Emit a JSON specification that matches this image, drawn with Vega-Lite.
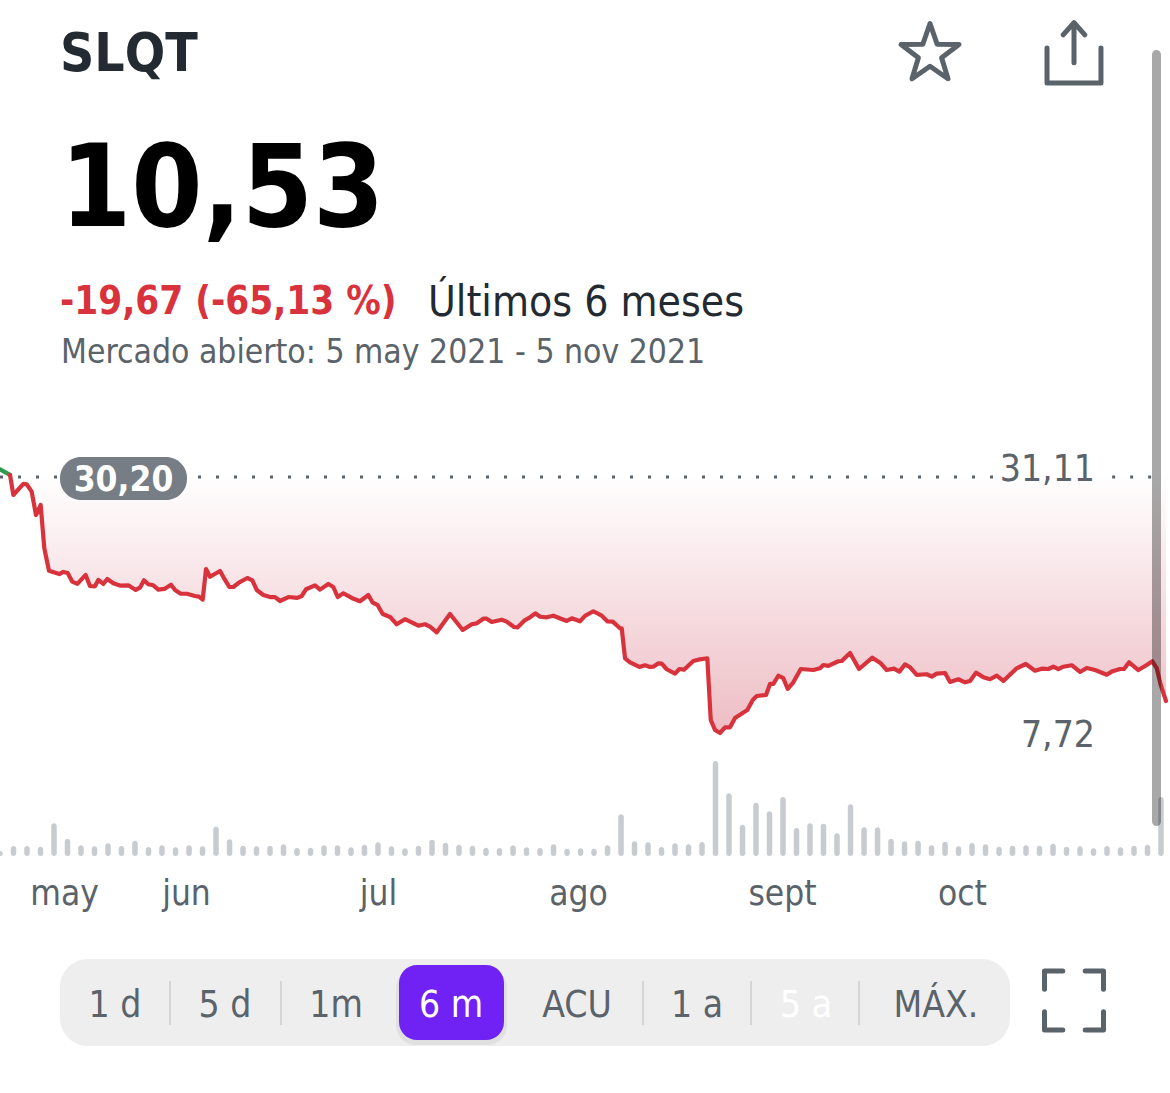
{"$schema":"https://vega.github.io/schema/vega-lite/v6.json","autosize":{"type":"none"},"width":1170,"height":1093,"padding":0,"background":"#ffffff","config":{"view":{"stroke":null},"font":"DejaVu Sans Condensed"},
"datasets":{
"precio":[{"dia":0,"precio":30.88,"tramo":"sube"},{"dia":1.58,"precio":30.38,"tramo":"sube"},
{"dia":1.58,"precio":30.38,"tramo":"baja"},{"dia":2.10,"precio":28.62,"tramo":"baja"},{"dia":3.68,"precio":29.59,"tramo":"baja"},{"dia":4.21,"precio":29.56,"tramo":"baja"},{"dia":5.00,"precio":28.91,"tramo":"baja"},{"dia":5.68,"precio":26.86,"tramo":"baja"},{"dia":6.42,"precio":27.74,"tramo":"baja"},{"dia":6.99,"precio":23.94,"tramo":"baja"},{"dia":7.73,"precio":21.97,"tramo":"baja"},{"dia":9.36,"precio":21.68,"tramo":"baja"},{"dia":9.99,"precio":21.86,"tramo":"baja"},{"dia":10.68,"precio":21.77,"tramo":"baja"},{"dia":11.41,"precio":21.01,"tramo":"baja"},{"dia":12.20,"precio":20.81,"tramo":"baja"},{"dia":13.52,"precio":21.60,"tramo":"baja"},{"dia":14.20,"precio":20.63,"tramo":"baja"},{"dia":14.99,"precio":20.60,"tramo":"baja"},{"dia":15.51,"precio":21.16,"tramo":"baja"},{"dia":16.30,"precio":20.81,"tramo":"baja"},{"dia":16.93,"precio":21.24,"tramo":"baja"},{"dia":17.88,"precio":20.87,"tramo":"baja"},{"dia":19.05,"precio":20.66,"tramo":"baja"},{"dia":20.25,"precio":20.69,"tramo":"baja"},{"dia":21.41,"precio":20.28,"tramo":"baja"},{"dia":22.09,"precio":20.48,"tramo":"baja"},{"dia":22.72,"precio":21.13,"tramo":"baja"},{"dia":23.40,"precio":20.78,"tramo":"baja"},{"dia":24.19,"precio":20.69,"tramo":"baja"},{"dia":24.98,"precio":20.31,"tramo":"baja"},{"dia":25.93,"precio":20.37,"tramo":"baja"},{"dia":26.99,"precio":20.74,"tramo":"baja"},{"dia":27.62,"precio":20.28,"tramo":"baja"},{"dia":28.52,"precio":19.95,"tramo":"baja"},{"dia":29.46,"precio":19.95,"tramo":"baja"},{"dia":30.77,"precio":19.75,"tramo":"baja"},{"dia":31.40,"precio":19.69,"tramo":"baja"},{"dia":31.99,"precio":19.43,"tramo":"baja"},{"dia":32.51,"precio":22.12,"tramo":"baja"},{"dia":33.14,"precio":21.44,"tramo":"baja"},{"dia":34.72,"precio":21.95,"tramo":"baja"},{"dia":35.51,"precio":21.16,"tramo":"baja"},{"dia":36.19,"precio":20.54,"tramo":"baja"},{"dia":36.82,"precio":20.54,"tramo":"baja"},{"dia":37.76,"precio":20.95,"tramo":"baja"},{"dia":39.03,"precio":21.33,"tramo":"baja"},{"dia":39.82,"precio":21.13,"tramo":"baja"},{"dia":40.51,"precio":20.28,"tramo":"baja"},{"dia":41.55,"precio":19.84,"tramo":"baja"},{"dia":42.61,"precio":19.66,"tramo":"baja"},{"dia":43.40,"precio":19.66,"tramo":"baja"},{"dia":44.19,"precio":19.31,"tramo":"baja"},{"dia":45.50,"precio":19.66,"tramo":"baja"},{"dia":46.92,"precio":19.58,"tramo":"baja"},{"dia":47.61,"precio":19.75,"tramo":"baja"},{"dia":48.29,"precio":20.34,"tramo":"baja"},{"dia":49.71,"precio":20.69,"tramo":"baja"},{"dia":50.50,"precio":20.31,"tramo":"baja"},{"dia":51.81,"precio":20.81,"tramo":"baja"},{"dia":52.60,"precio":20.54,"tramo":"baja"},{"dia":53.29,"precio":19.66,"tramo":"baja"},{"dia":54.18,"precio":19.99,"tramo":"baja"},{"dia":55.50,"precio":19.58,"tramo":"baja"},{"dia":56.81,"precio":19.29,"tramo":"baja"},{"dia":58.12,"precio":19.84,"tramo":"baja"},{"dia":58.82,"precio":19.16,"tramo":"baja"},{"dia":59.60,"precio":18.94,"tramo":"baja"},{"dia":60.39,"precio":18.17,"tramo":"baja"},{"dia":61.55,"precio":17.91,"tramo":"baja"},{"dia":62.60,"precio":17.27,"tramo":"baja"},{"dia":63.91,"precio":17.71,"tramo":"baja"},{"dia":66.01,"precio":17.14,"tramo":"baja"},{"dia":67.07,"precio":17.27,"tramo":"baja"},{"dia":67.86,"precio":17.06,"tramo":"baja"},{"dia":68.92,"precio":16.56,"tramo":"baja"},{"dia":71.01,"precio":18.17,"tramo":"baja"},{"dia":73.02,"precio":16.77,"tramo":"baja"},{"dia":74.44,"precio":17.27,"tramo":"baja"},{"dia":75.23,"precio":17.35,"tramo":"baja"},{"dia":76.27,"precio":17.76,"tramo":"baja"},{"dia":76.80,"precio":17.76,"tramo":"baja"},{"dia":77.60,"precio":17.47,"tramo":"baja"},{"dia":79.17,"precio":17.67,"tramo":"baja"},{"dia":79.96,"precio":17.50,"tramo":"baja"},{"dia":81.11,"precio":17.03,"tramo":"baja"},{"dia":81.70,"precio":17.00,"tramo":"baja"},{"dia":82.85,"precio":17.64,"tramo":"baja"},{"dia":83.64,"precio":17.88,"tramo":"baja"},{"dia":84.48,"precio":18.23,"tramo":"baja"},{"dia":85.22,"precio":17.93,"tramo":"baja"},{"dia":86.27,"precio":17.88,"tramo":"baja"},{"dia":87.32,"precio":18.02,"tramo":"baja"},{"dia":89.43,"precio":17.56,"tramo":"baja"},{"dia":90.22,"precio":17.79,"tramo":"baja"},{"dia":91.53,"precio":17.53,"tramo":"baja"},{"dia":92.32,"precio":18.00,"tramo":"baja"},{"dia":93.63,"precio":18.41,"tramo":"baja"},{"dia":94.96,"precio":18.02,"tramo":"baja"},{"dia":95.84,"precio":17.53,"tramo":"baja"},{"dia":96.69,"precio":17.50,"tramo":"baja"},{"dia":97.84,"precio":16.92,"tramo":"baja"},{"dia":98.11,"precio":16.92,"tramo":"baja"},{"dia":98.63,"precio":14.28,"tramo":"baja"},{"dia":99.42,"precio":13.93,"tramo":"baja"},{"dia":100.89,"precio":13.52,"tramo":"baja"},{"dia":101.79,"precio":13.67,"tramo":"baja"},{"dia":102.58,"precio":13.52,"tramo":"baja"},{"dia":103.10,"precio":13.54,"tramo":"baja"},{"dia":103.89,"precio":13.84,"tramo":"baja"},{"dia":104.42,"precio":13.81,"tramo":"baja"},{"dia":105.21,"precio":13.32,"tramo":"baja"},{"dia":106.52,"precio":12.93,"tramo":"baja"},{"dia":107.20,"precio":13.34,"tramo":"baja"},{"dia":107.94,"precio":13.28,"tramo":"baja"},{"dia":109.41,"precio":14.04,"tramo":"baja"},{"dia":110.20,"precio":14.16,"tramo":"baja"},{"dia":111.62,"precio":14.28,"tramo":"baja"},{"dia":112.16,"precio":8.86,"tramo":"baja"},{"dia":112.83,"precio":7.99,"tramo":"baja"},{"dia":113.62,"precio":7.72,"tramo":"baja"},{"dia":114.41,"precio":8.22,"tramo":"baja"},{"dia":115.20,"precio":8.22,"tramo":"baja"},{"dia":115.99,"precio":9.04,"tramo":"baja"},{"dia":117.93,"precio":9.74,"tramo":"baja"},{"dia":118.79,"precio":10.62,"tramo":"baja"},{"dia":119.42,"precio":10.97,"tramo":"baja"},{"dia":120.88,"precio":11.06,"tramo":"baja"},{"dia":121.51,"precio":12.03,"tramo":"baja"},{"dia":122.04,"precio":12.03,"tramo":"baja"},{"dia":122.82,"precio":12.75,"tramo":"baja"},{"dia":123.61,"precio":12.53,"tramo":"baja"},{"dia":124.31,"precio":11.59,"tramo":"baja"},{"dia":125.19,"precio":12.17,"tramo":"baja"},{"dia":126.36,"precio":13.34,"tramo":"baja"},{"dia":128.35,"precio":13.25,"tramo":"baja"},{"dia":129.40,"precio":13.40,"tramo":"baja"},{"dia":129.93,"precio":13.69,"tramo":"baja"},{"dia":130.72,"precio":13.61,"tramo":"baja"},{"dia":132.29,"precio":14.02,"tramo":"baja"},{"dia":132.83,"precio":14.04,"tramo":"baja"},{"dia":134.14,"precio":14.75,"tramo":"baja"},{"dia":135.56,"precio":13.34,"tramo":"baja"},{"dia":137.66,"precio":14.33,"tramo":"baja"},{"dia":138.98,"precio":13.84,"tramo":"baja"},{"dia":139.93,"precio":13.25,"tramo":"baja"},{"dia":141.08,"precio":13.37,"tramo":"baja"},{"dia":141.92,"precio":13.11,"tramo":"baja"},{"dia":142.82,"precio":13.75,"tramo":"baja"},{"dia":143.61,"precio":13.49,"tramo":"baja"},{"dia":144.67,"precio":12.82,"tramo":"baja"},{"dia":146.24,"precio":12.88,"tramo":"baja"},{"dia":147.03,"precio":12.67,"tramo":"baja"},{"dia":147.82,"precio":12.93,"tramo":"baja"},{"dia":149.13,"precio":12.99,"tramo":"baja"},{"dia":149.92,"precio":12.20,"tramo":"baja"},{"dia":151.23,"precio":12.44,"tramo":"baja"},{"dia":152.29,"precio":12.17,"tramo":"baja"},{"dia":153.08,"precio":12.29,"tramo":"baja"},{"dia":154.02,"precio":13.02,"tramo":"baja"},{"dia":155.18,"precio":12.61,"tramo":"baja"},{"dia":156.23,"precio":12.44,"tramo":"baja"},{"dia":157.29,"precio":12.75,"tramo":"baja"},{"dia":158.33,"precio":12.29,"tramo":"baja"},{"dia":160.44,"precio":13.40,"tramo":"baja"},{"dia":161.87,"precio":13.78,"tramo":"baja"},{"dia":163.33,"precio":13.19,"tramo":"baja"},{"dia":164.39,"precio":13.37,"tramo":"baja"},{"dia":165.43,"precio":13.34,"tramo":"baja"},{"dia":166.22,"precio":13.54,"tramo":"baja"},{"dia":167.01,"precio":13.32,"tramo":"baja"},{"dia":167.80,"precio":13.54,"tramo":"baja"},{"dia":169.12,"precio":13.67,"tramo":"baja"},{"dia":170.43,"precio":13.08,"tramo":"baja"},{"dia":171.49,"precio":13.43,"tramo":"baja"},{"dia":172.80,"precio":13.25,"tramo":"baja"},{"dia":174.65,"precio":12.84,"tramo":"baja"},{"dia":175.44,"precio":13.11,"tramo":"baja"},{"dia":176.75,"precio":13.34,"tramo":"baja"},{"dia":177.38,"precio":13.34,"tramo":"baja"},{"dia":178.17,"precio":13.93,"tramo":"baja"},{"dia":179.64,"precio":13.25,"tramo":"baja"},{"dia":180.96,"precio":13.69,"tramo":"baja"},{"dia":181.85,"precio":14.02,"tramo":"baja"},{"dia":182.54,"precio":13.40,"tramo":"baja"},{"dia":183.17,"precio":11.94,"tramo":"baja"},{"dia":184,"precio":10.53,"tramo":"baja"}],
"volumen":[{"dia":0,"volumen":0.50},{"dia":2.13,"volumen":1.00},{"dia":4.26,"volumen":1.00},{"dia":6.39,"volumen":0.93},{"dia":8.52,"volumen":3.27},{"dia":10.65,"volumen":1.73},{"dia":12.78,"volumen":1.07},{"dia":14.91,"volumen":0.97},{"dia":17.04,"volumen":1.27},{"dia":19.17,"volumen":1.00},{"dia":21.30,"volumen":1.53},{"dia":23.43,"volumen":0.90},{"dia":25.56,"volumen":1.07},{"dia":27.70,"volumen":0.87},{"dia":29.83,"volumen":1.07},{"dia":31.96,"volumen":0.97},{"dia":34.09,"volumen":2.93},{"dia":36.22,"volumen":1.67},{"dia":38.35,"volumen":1.03},{"dia":40.48,"volumen":0.97},{"dia":42.61,"volumen":1.03},{"dia":44.74,"volumen":1.17},{"dia":46.87,"volumen":0.80},{"dia":49.00,"volumen":0.83},{"dia":51.13,"volumen":1.07},{"dia":53.26,"volumen":1.07},{"dia":55.39,"volumen":0.87},{"dia":57.52,"volumen":1.13},{"dia":59.65,"volumen":1.37},{"dia":61.78,"volumen":0.97},{"dia":63.91,"volumen":0.77},{"dia":66.04,"volumen":1.03},{"dia":68.17,"volumen":1.63},{"dia":70.30,"volumen":1.33},{"dia":72.43,"volumen":1.13},{"dia":74.56,"volumen":1.03},{"dia":76.69,"volumen":0.83},{"dia":78.82,"volumen":0.80},{"dia":80.96,"volumen":1.07},{"dia":83.09,"volumen":0.87},{"dia":85.22,"volumen":0.80},{"dia":87.35,"volumen":1.17},{"dia":89.48,"volumen":0.73},{"dia":91.61,"volumen":0.77},{"dia":93.74,"volumen":0.73},{"dia":95.87,"volumen":1.07},{"dia":98.00,"volumen":4.17},{"dia":100.13,"volumen":1.47},{"dia":102.26,"volumen":1.37},{"dia":104.39,"volumen":0.90},{"dia":106.52,"volumen":1.27},{"dia":108.65,"volumen":1.17},{"dia":110.78,"volumen":1.40},{"dia":112.91,"volumen":9.50},{"dia":115.04,"volumen":6.27},{"dia":117.17,"volumen":3.13},{"dia":119.30,"volumen":5.33},{"dia":121.43,"volumen":4.47},{"dia":123.56,"volumen":5.90},{"dia":125.69,"volumen":2.80},{"dia":127.82,"volumen":3.27},{"dia":129.95,"volumen":3.23},{"dia":132.08,"volumen":2.27},{"dia":134.22,"volumen":5.17},{"dia":136.35,"volumen":2.87},{"dia":138.48,"volumen":2.87},{"dia":140.61,"volumen":1.73},{"dia":142.74,"volumen":1.47},{"dia":144.87,"volumen":1.53},{"dia":147.00,"volumen":1.07},{"dia":149.13,"volumen":1.43},{"dia":151.26,"volumen":0.97},{"dia":153.39,"volumen":1.30},{"dia":155.52,"volumen":1.17},{"dia":157.65,"volumen":0.93},{"dia":159.78,"volumen":1.03},{"dia":161.91,"volumen":1.07},{"dia":164.04,"volumen":1.03},{"dia":166.17,"volumen":1.23},{"dia":168.30,"volumen":0.93},{"dia":170.43,"volumen":0.97},{"dia":172.56,"volumen":0.77},{"dia":174.69,"volumen":1.00},{"dia":176.82,"volumen":0.87},{"dia":178.95,"volumen":1.03},{"dia":181.08,"volumen":1.13},{"dia":183.21,"volumen":5.90}],
"cierre":[{"ini":0,"fin":157,"precio":30.2},{"ini":175.5,"fin":183.5,"precio":30.2}],
"pastilla":[{"ini":9.47,"fin":29.51,"alto":31.96,"bajo":28.18,"centro":19.49,"precio":30.2,"texto":"30,20"}],
"extremos":[{"dia":172.8,"precio":31.11,"texto":"31,11"},{"dia":172.8,"precio":7.72,"texto":"7,72"}],
"negrita":[{"n":0,"texto":"SLQT","tono":"tinta"},{"n":1,"texto":"10,53","tono":"negro"},{"n":2,"texto":"-19,67 (-65,13 %)","tono":"rojo"}],
"normal":[{"n":0,"texto":"Últimos 6 meses","tono":"tinta"},{"n":1,"texto":"Mercado abierto: 5 may 2021 - 5 nov 2021","tono":"gris"}],
"rangos":[{"n":0,"f":0,"texto":"1 d","tono":"gris"},{"n":1,"f":0,"texto":"5 d","tono":"gris"},{"n":2,"f":0,"texto":"1m","tono":"gris"},{"n":3,"f":0,"texto":"6 m","tono":"blanco"},{"n":4,"f":0,"texto":"ACU","tono":"gris"},{"n":5,"f":0,"texto":"1 a","tono":"gris"},{"n":6,"f":0,"texto":"5 a","tono":"blanco"},{"n":7,"f":0,"texto":"MÁX.","tono":"gris"}],
"separadores":[{"n":0,"a":0,"b":1},{"n":1,"a":0,"b":1},{"n":2,"a":0,"b":1},{"n":3,"a":0,"b":1},{"n":4,"a":0,"b":1}],
"caja":[{"a":0,"b":1}],
"iconos":[{"n":0,"icono":"favorito"},{"n":1,"icono":"compartir"},{"n":2,"icono":"pantalla completa"}]
},
"layer":[
{"data":{"name":"precio"},"transform":[{"filter":"datum.tramo === 'baja'"}],"mark":{"type":"area","clip":true,"line":false,"fill":{"x1":0,"y1":0,"x2":0,"y2":1,"gradient":"linear","stops":[{"offset":0,"color":"#ffffff"},{"offset":1,"color":"#edbdc4"}]}},"encoding":{"x":{"field":"dia","type":"quantitative","axis":null,"scale":{"domain":[0,184],"range":[0,1166],"nice":false,"zero":false}},"y":{"field":"precio","type":"quantitative","axis":null,"scale":{"domain":[7.72,30.2],"range":[733,477],"nice":false,"zero":false}},"y2":{"datum":30.2}}},
{"data":{"name":"precio"},"mark":{"type":"line","clip":true,"strokeWidth":4.2,"strokeJoin":"round","strokeCap":"round"},"encoding":{"x":{"field":"dia","type":"quantitative","scale":{"domain":[0,184],"range":[0,1166],"nice":false,"zero":false},"title":null,"axis":{"values":[10.1,29.35,59.65,91.2,123.4,151.8],"labelExpr":"datum.value<20?'may':datum.value<40?'jun':datum.value<70?'jul':datum.value<100?'ago':datum.value<130?'sept':'oct'","domain":false,"ticks":false,"grid":false,"labelFont":"DejaVu Sans Condensed","labelFontSize":35,"labelColor":"#5b636a","labelPadding":0,"labelOverlap":false,"labelFlush":false,"offset":-217}},"y":{"field":"precio","type":"quantitative","axis":null,"scale":{"domain":[7.72,30.2],"range":[733,477],"nice":false,"zero":false}},"color":{"field":"tramo","type":"nominal","legend":null,"scale":{"domain":["sube","baja"],"range":["#2e9a4e","#d8333c"]}}}},
{"data":{"name":"cierre"},"mark":{"type":"rule","strokeWidth":3,"strokeDash":[3,15],"color":"#5b636a"},"encoding":{"x":{"field":"ini","type":"quantitative","axis":null,"scale":{"domain":[0,184],"range":[0,1166],"nice":false,"zero":false}},"x2":{"field":"fin"},"y":{"field":"precio","type":"quantitative","axis":null,"scale":{"domain":[7.72,30.2],"range":[733,477],"nice":false,"zero":false}}}},
{"data":{"name":"pastilla"},"mark":{"type":"rect","fill":"#767d85","cornerRadius":21},"encoding":{"x":{"field":"ini","type":"quantitative","axis":null,"scale":{"domain":[0,184],"range":[0,1166],"nice":false,"zero":false}},"x2":{"field":"fin"},"y":{"field":"alto","type":"quantitative","axis":null,"scale":{"domain":[7.72,30.2],"range":[733,477],"nice":false,"zero":false}},"y2":{"field":"bajo"}}},
{"data":{"name":"pastilla"},"mark":{"type":"text","font":"DejaVu Sans Condensed","fontWeight":"bold","fontSize":35,"color":"#ffffff","baseline":"middle","align":"center","dy":3},"encoding":{"x":{"field":"centro","type":"quantitative","axis":null,"scale":{"domain":[0,184],"range":[0,1166],"nice":false,"zero":false}},"y":{"field":"precio","type":"quantitative","axis":null,"scale":{"domain":[7.72,30.2],"range":[733,477],"nice":false,"zero":false}},"text":{"field":"texto"}}},
{"data":{"name":"extremos"},"mark":{"type":"text","font":"DejaVu Sans Condensed","fontSize":37,"color":"#5b636a","baseline":"middle","align":"right","dy":3},"encoding":{"x":{"field":"dia","type":"quantitative","axis":null,"scale":{"domain":[0,184],"range":[0,1166],"nice":false,"zero":false}},"y":{"field":"precio","type":"quantitative","axis":null,"scale":{"domain":[7.72,30.2],"range":[733,477],"nice":false,"zero":false}},"text":{"field":"texto"}}},
{"data":{"name":"volumen"},"mark":{"type":"bar","clip":true,"orient":"vertical","size":5.5,"cornerRadius":2.75,"fill":"#c8ccd0"},"encoding":{"x":{"field":"dia","type":"quantitative","axis":null,"scale":{"domain":[0,184],"range":[0,1166],"nice":false,"zero":false,"padding":0}},"y":{"field":"volumen","type":"quantitative","axis":null,"scale":{"domain":[0,10],"range":[856,756],"nice":false,"zero":false}},"y2":{"datum":0}}},
{"data":{"name":"negrita"},"mark":{"type":"text","font":"DejaVu Sans Condensed","fontWeight":"bold","baseline":"middle","align":"left"},"encoding":{"x":{"field":"n","type":"quantitative","axis":null,"scale":{"domain":[0,1,2],"range":[60,60,60],"nice":false,"zero":false}},"y":{"field":"n","type":"quantitative","axis":null,"scale":{"domain":[0,1,2],"range":[55,192,303],"nice":false,"zero":false}},"size":{"field":"n","type":"quantitative","legend":null,"scale":{"domain":[0,1,2],"range":[53,114,38.3],"zero":false}},"color":{"field":"tono","type":"nominal","legend":null,"scale":{"domain":["tinta","negro","rojo"],"range":["#232a31","#000000","#d8333c"]}},"text":{"field":"texto"}}},
{"data":{"name":"normal"},"mark":{"type":"text","font":"DejaVu Sans Condensed","baseline":"middle","align":"left"},"encoding":{"x":{"field":"n","type":"quantitative","axis":null,"scale":{"domain":[0,1],"range":[428,61],"nice":false,"zero":false}},"y":{"field":"n","type":"quantitative","axis":null,"scale":{"domain":[0,1],"range":[303,353],"nice":false,"zero":false}},"size":{"field":"n","type":"quantitative","legend":null,"scale":{"domain":[0,1],"range":[42.3,33.4],"zero":false}},"color":{"field":"tono","type":"nominal","legend":null,"scale":{"domain":["tinta","gris"],"range":["#232a31","#5b636a"]}},"text":{"field":"texto"}}},
{"data":{"name":"caja"},"mark":{"type":"rect","fill":"#eeeeef","cornerRadius":28},"encoding":{"x":{"field":"a","type":"quantitative","axis":null,"scale":{"domain":[0,1],"range":[60,1010],"nice":false,"zero":false}},"x2":{"field":"b"},"y":{"field":"a","type":"quantitative","axis":null,"scale":{"domain":[0,1],"range":[959,1046],"nice":false,"zero":false}},"y2":{"field":"b"}}},
{"data":{"name":"caja"},"mark":{"type":"rect","fill":"#000000","fillOpacity":0.06,"cornerRadius":20},"encoding":{"x":{"field":"a","type":"quantitative","axis":null,"scale":{"domain":[0,1],"range":[396,507],"nice":false,"zero":false}},"x2":{"field":"b"},"y":{"field":"a","type":"quantitative","axis":null,"scale":{"domain":[0,1],"range":[968,1045],"nice":false,"zero":false}},"y2":{"field":"b"}}},
{"data":{"name":"caja"},"mark":{"type":"rect","fill":"#7022f5","cornerRadius":18},"encoding":{"x":{"field":"a","type":"quantitative","axis":null,"scale":{"domain":[0,1],"range":[399,504],"nice":false,"zero":false}},"x2":{"field":"b"},"y":{"field":"a","type":"quantitative","axis":null,"scale":{"domain":[0,1],"range":[965,1040],"nice":false,"zero":false}},"y2":{"field":"b"}}},
{"data":{"name":"separadores"},"mark":{"type":"rule","strokeWidth":2,"color":"#d5d6d8"},"encoding":{"x":{"field":"n","type":"quantitative","axis":null,"scale":{"domain":[0,1,2,3,4],"range":[170,281,643,751,859],"nice":false,"zero":false}},"y":{"field":"a","type":"quantitative","axis":null,"scale":{"domain":[0,1],"range":[981,1025],"nice":false,"zero":false}},"y2":{"field":"b"}}},
{"data":{"name":"rangos"},"mark":{"type":"text","font":"DejaVu Sans Condensed","fontSize":37,"baseline":"middle","align":"center"},"encoding":{"x":{"field":"n","type":"quantitative","axis":null,"scale":{"domain":[0,1,2,3,4,5,6,7],"range":[115,225,336,451,577,697,806,936],"nice":false,"zero":false}},"y":{"field":"f","type":"quantitative","axis":null,"scale":{"domain":[0,1],"range":[1006,1007],"nice":false,"zero":false}},"color":{"field":"tono","type":"nominal","legend":null,"scale":{"domain":["gris","blanco"],"range":["#5b636a","#ffffff"]}},"text":{"field":"texto"}}},
{"data":{"name":"iconos"},"mark":{"type":"point","filled":false,"fill":null,"strokeWidth":5,"strokeJoin":"round","strokeCap":"round","opacity":1,"color":"#5b636a"},"encoding":{"x":{"field":"n","type":"quantitative","axis":null,"scale":{"domain":[0,1,2],"range":[930,1074,1074],"nice":false,"zero":false}},"y":{"field":"n","type":"quantitative","axis":null,"scale":{"domain":[0,1,2],"range":[54,52,1000.5],"nice":false,"zero":false}},"size":{"field":"n","type":"quantitative","legend":null,"scale":{"domain":[0,1,2],"range":[3721,3844,3481],"zero":false}},"shape":{"field":"icono","type":"nominal","legend":null,"scale":{"domain":["favorito","compartir","pantalla completa"],"range":["M0,-1L0.235,-0.32L0.95,-0.31L0.38,0.12L0.59,0.81L0,0.4L-0.59,0.81L-0.38,0.12L-0.95,-0.31L-0.235,-0.32Z","M-0.87,-0.13L-0.87,1L0.87,1L0.87,-0.13M0,-0.75L0,0.35M-0.35,-0.55L0,-0.95L0.35,-0.55","M-1,-0.38L-1,-1L-0.38,-1M0.38,-1L1,-1L1,-0.38M1,0.38L1,1L0.38,1M-0.38,1L-1,1L-1,0.38"]}}}},
{"data":{"name":"caja"},"mark":{"type":"rect","fill":"#000000","fillOpacity":0.34,"cornerRadius":4.5},"encoding":{"x":{"field":"a","type":"quantitative","axis":null,"scale":{"domain":[0,1],"range":[1152,1161],"nice":false,"zero":false}},"x2":{"field":"b"},"y":{"field":"a","type":"quantitative","axis":null,"scale":{"domain":[0,1],"range":[50,826],"nice":false,"zero":false}},"y2":{"field":"b"}}}
],
"resolve":{"scale":{"x":"independent","y":"independent","color":"independent","size":"independent","shape":"independent"}}}
